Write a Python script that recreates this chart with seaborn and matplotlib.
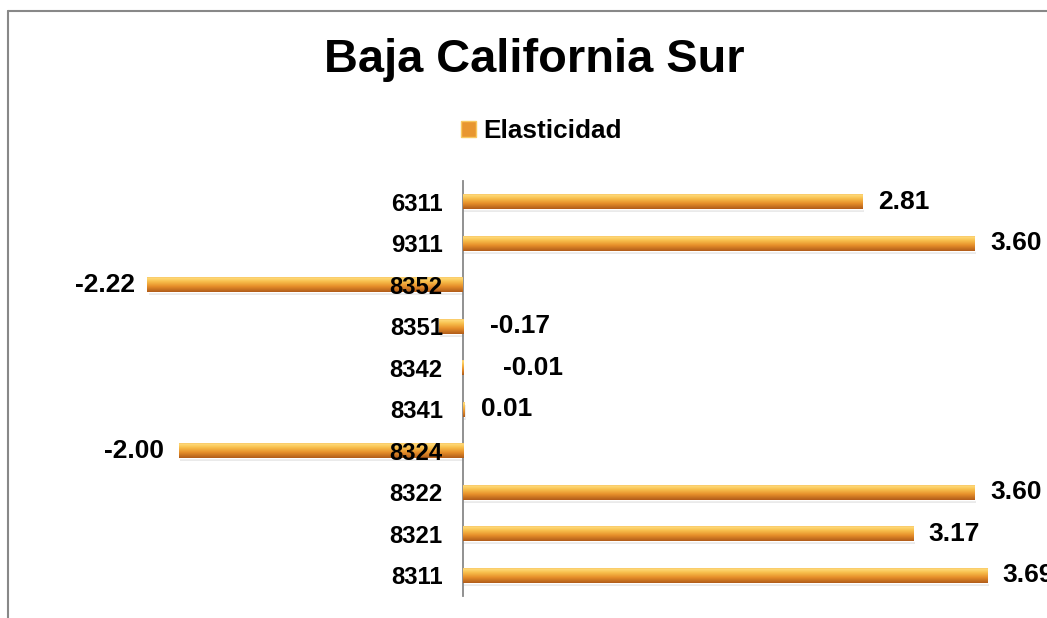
import numpy as np
import pandas as pd
import matplotlib
matplotlib.use("Agg")
import matplotlib.pyplot as plt
import matplotlib.transforms as mtransforms
from matplotlib.colors import LinearSegmentedColormap
from matplotlib.patches import Rectangle
from matplotlib.lines import Line2D
import seaborn as sns

categories = ["6311", "9311", "8352", "8351", "8342", "8341", "8324", "8322", "8321", "8311"]
values = [2.81, 3.60, -2.22, -0.17, -0.01, 0.01, -2.00, 3.60, 3.17, 3.69]
value_labels = ["2.81", "3.60", "-2.22", "-0.17", "-0.01", "0.01", "-2.00", "3.60", "3.17", "3.69"]
series_name = "Elasticidad"
title = "Baja California Sur"

df = pd.DataFrame({"categoria": categories, "valor": values})

sns.set_theme(style="white")
plt.rcParams["font.family"] = ["Liberation Sans", "DejaVu Sans"]
plt.rcParams["font.weight"] = "bold"
plt.rcParams["text.color"] = "black"

W, H = 1047, 618
fig = plt.figure(figsize=(W / 100, H / 100), dpi=100)
fig.patch.set_facecolor("white")

ax_left, ax_right, ax_top, ax_bot = 40, 1047, 181, 596
ax = fig.add_axes([ax_left / W, (H - ax_bot) / H, (ax_right - ax_left) / W, (ax_bot - ax_top) / H])

base = "#EBA03C"
sns.barplot(data=df, x="valor", y="categoria", orient="h", order=categories,
            color=base, width=0.37, ax=ax, label=series_name, saturation=1)

px_per_unit = 142.2
xmin = -(463 - ax_left) / px_per_unit
xmax = (ax_right - 463) / px_per_unit

# gradient fill + shadow
cmap = LinearSegmentedColormap.from_list("bar", [
    (0.0, "#F0B050"), (0.12, "#FFDA78"), (0.35, "#F7BD4A"),
    (0.65, "#E68E2A"), (1.0, "#B05C1A")])
grad = np.linspace(0, 1, 64).reshape(-1, 1)
shadow_tr = mtransforms.offset_copy(ax.transData, fig=fig, x=1.5, y=-3.0, units="dots")
for p in list(ax.patches):
    x0, y0 = p.get_x(), p.get_y()
    w, h = p.get_width(), p.get_height()
    sh = Rectangle((x0, y0), w, h, transform=shadow_tr, facecolor="#a0a0a0",
                   alpha=0.22, edgecolor="none", zorder=p.get_zorder() - 0.5)
    ax.add_patch(sh)
    im = ax.imshow(grad, cmap=cmap, aspect="auto",
                   extent=(x0, x0 + w, y0 + h, y0), origin="upper",
                   zorder=p.get_zorder() + 0.1, interpolation="bilinear")
    im.set_clip_path(p)
ax.set_xlim(xmin, xmax)
ax.set_ylim(len(categories) - 0.5, -0.5)

# axis
for s in ["top", "right", "bottom"]:
    ax.spines[s].set_visible(False)
ax.spines["left"].set_position(("data", 0))
ax.spines["left"].set_color("#888888")
ax.spines["left"].set_linewidth(1.3)
ax.spines["left"].set_zorder(1)
ax.set_xticks([])
ax.set_xlabel("")
ax.set_ylabel("")
ax.tick_params(axis="y", length=0, pad=14.5, labelsize=17.2, labelcolor="black")
for t in ax.get_yticklabels():
    t.set_fontweight("bold")
ax.yaxis.set_zorder(10)
ax.set_facecolor("none")

# data labels (pixel offsets from bar end, style only)
label_offsets = [16, 15, -12, 27, 40, 17, -15, 15, 15, 15]
for i, (v, lab, off) in enumerate(zip(values, value_labels, label_offsets)):
    if v >= 0:
        xref, ha = v, "left"
    elif off < 0:
        xref, ha = v, "right"
    else:
        xref, ha = 0, "left"
    tr = mtransforms.offset_copy(ax.transData, fig=fig, x=off, y=0, units="dots")
    ax.text(xref, i, lab, transform=tr, ha=ha, va="center", fontsize=19,
            fontweight="bold", color="black", zorder=12, clip_on=False)

# legend
leg = ax.legend(loc="center left", bbox_to_anchor=(451 / W, 1 - 131 / H),
                bbox_transform=fig.transFigure, frameon=False,
                prop={"weight": "bold", "size": 18.8}, handlelength=0.55,
                handleheight=0.55, handletextpad=0.3, borderaxespad=0,
                labelcolor="black")
for hnd in leg.legend_handles:
    hnd.set_facecolor("#E8962F")
    hnd.set_edgecolor("#F8C860")

# title
fig.text(534 / W, 1 - 72 / H, title, ha="center", va="baseline",
         fontsize=33.8, fontweight="bold", color="black")

# chart border (top and left)
fig.add_artist(Line2D([7.5 / W, 7.5 / W], [1 - 10.5 / H, -0.05], transform=fig.transFigure,
                      color="#888888", lw=1.5))
fig.add_artist(Line2D([7.5 / W, 1.05], [1 - 10.5 / H, 1 - 10.5 / H], transform=fig.transFigure,
                      color="#888888", lw=1.5))

fig.savefig("out.png", dpi=100, facecolor="white")
